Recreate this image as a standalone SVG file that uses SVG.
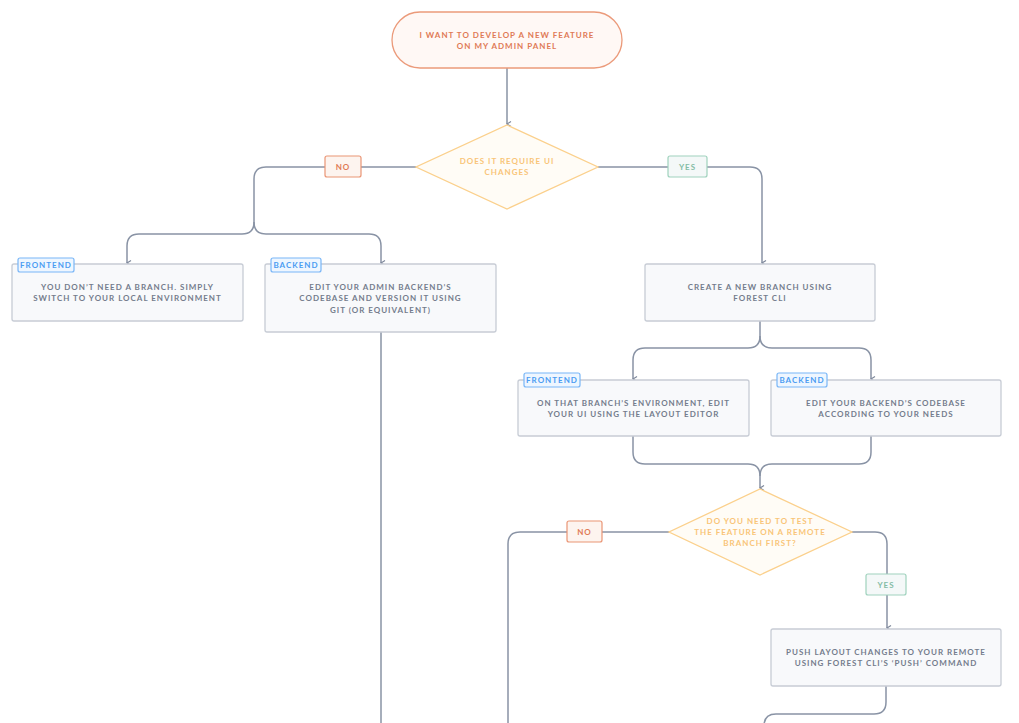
<svg xmlns="http://www.w3.org/2000/svg" width="1019" height="723" viewBox="0 0 1019 723">
<defs>
<marker id="arr" viewBox="0 0 6 6" refX="3" refY="5" markerWidth="6" markerHeight="6" markerUnits="userSpaceOnUse" orient="auto-start-reverse">
<path d="M0.5,1 L3,5 L5.5,1" fill="none" stroke="#7d879a" stroke-width="1.2"/>
</marker>
<style>
.t{font-family:Lato,"Open Sans","Liberation Sans",sans-serif;font-weight:700;font-size:8px;letter-spacing:1px;text-anchor:middle}
.box{fill:#f8f9fb;stroke:#c7ccd5;stroke-width:1.3}
.bt{fill:#747c8c}
.tag{fill:#eef6ff;stroke:#79b6f7;stroke-width:1.2}
.tagt{fill:#4b9cf2;font-size:8px}
.c{fill:none;stroke:#8993a5;stroke-width:1.5}
.no{fill:#fdf4ef;stroke:#ea9575;stroke-width:1.2}
.not{fill:#e07a55}
.yes{fill:#f4f8f8;stroke:#9fd2bd;stroke-width:1.2}
.yest{fill:#84bca5}
.dia{fill:#fffcf6;stroke:#fbd08c;stroke-width:1.3}
.diat{fill:#f9c578}
</style>
</defs>
<rect width="1019" height="723" fill="#ffffff"/>
<g id="connectors">
<path class="c" d="M507,68 V124" marker-end="url(#arr)"/>
<path class="c" d="M416,167 H266 Q254,167 254,179 V222 Q254,234 242,234 H139 Q127,234 127,246 V263" marker-end="url(#arr)"/>
<path class="c" d="M254,222 Q254,234 266,234 H369 Q381,234 381,246 V263" marker-end="url(#arr)"/>
<path class="c" d="M598,167 H750 Q762,167 762,179 V263" marker-end="url(#arr)"/>
<path class="c" d="M381,332 V723"/>
<path class="c" d="M760,321 V336 Q760,348 748,348 H645 Q633,348 633,360 V379" marker-end="url(#arr)"/>
<path class="c" d="M760,336 Q760,348 772,348 H859 Q871,348 871,360 V379" marker-end="url(#arr)"/>
<path class="c" d="M633,436 V452 Q633,464 645,464 H748 Q760,464 760,476 V488" marker-end="url(#arr)"/>
<path class="c" d="M871,436 V452 Q871,464 859,464 H772 Q760,464 760,476"/>
<path class="c" d="M669,532 H520 Q508,532 508,544 V723"/>
<path class="c" d="M852,532 H875 Q887,532 887,544 V628" marker-end="url(#arr)"/>
<path class="c" d="M886,686 V702 Q886,714 874,714 H776 Q764,714 764,726"/>
</g>
<g id="start">
<rect x="392" y="12" width="230" height="56" rx="28" fill="#fff8f5" stroke="#eb9a7a" stroke-width="1.3"/>
<text class="t not" x="507" y="38">I WANT TO DEVELOP A NEW FEATURE</text>
<text class="t not" x="507" y="49">ON MY ADMIN PANEL</text>
</g>
<g id="decision1">
<polygon class="dia" points="507,125 598,167 507,209 416,167"/>
<text class="t diat" x="507" y="164">DOES IT REQUIRE UI</text>
<text class="t diat" x="507" y="175">CHANGES</text>
</g>
<g id="label-no-1">
<rect class="no" x="325" y="156" width="36" height="21" rx="2"/>
<text class="t not" x="343" y="169.5">NO</text>
</g>
<g id="label-yes-1">
<rect class="yes" x="668" y="156" width="39" height="21" rx="2"/>
<text class="t yest" x="687.5" y="169.5">YES</text>
</g>
<g id="node-frontend-local">
<rect class="box" x="12" y="264" width="231" height="57" rx="2"/>
<text class="t bt" x="127.5" y="290">YOU DON’T NEED A BRANCH. SIMPLY</text>
<text class="t bt" x="127.5" y="301">SWITCH TO YOUR LOCAL ENVIRONMENT</text>
<rect class="tag" x="18" y="258" width="56" height="14" rx="2"/>
<text class="t tagt" x="46" y="268">FRONTEND</text>
</g>
<g id="node-backend-local">
<rect class="box" x="265" y="264" width="231" height="68" rx="2"/>
<text class="t bt" x="380.5" y="290">EDIT YOUR ADMIN BACKEND’S</text>
<text class="t bt" x="380.5" y="301">CODEBASE AND VERSION IT USING</text>
<text class="t bt" x="380.5" y="313">GIT (OR EQUIVALENT)</text>
<rect class="tag" x="271" y="258" width="50" height="14" rx="2"/>
<text class="t tagt" x="296" y="268">BACKEND</text>
</g>
<g id="node-create-branch">
<rect class="box" x="645" y="264" width="230" height="57" rx="2"/>
<text class="t bt" x="760" y="290">CREATE A NEW BRANCH USING</text>
<text class="t bt" x="760" y="301">FOREST CLI</text>
</g>
<g id="node-frontend-branch">
<rect class="box" x="518" y="380" width="231" height="56" rx="2"/>
<text class="t bt" x="633.5" y="406">ON THAT BRANCH’S ENVIRONMENT, EDIT</text>
<text class="t bt" x="633.5" y="417">YOUR UI USING THE LAYOUT EDITOR</text>
<rect class="tag" x="524" y="373" width="56" height="14" rx="2"/>
<text class="t tagt" x="552" y="383">FRONTEND</text>
</g>
<g id="node-backend-branch">
<rect class="box" x="771" y="380" width="230" height="56" rx="2"/>
<text class="t bt" x="886" y="406">EDIT YOUR BACKEND’S CODEBASE</text>
<text class="t bt" x="886" y="417">ACCORDING TO YOUR NEEDS</text>
<rect class="tag" x="777" y="373" width="50" height="14" rx="2"/>
<text class="t tagt" x="802" y="383">BACKEND</text>
</g>
<g id="decision2">
<polygon class="dia" points="760,489 852,532 760,575 669,532"/>
<text class="t diat" x="760" y="524">DO YOU NEED TO TEST</text>
<text class="t diat" x="760" y="535">THE FEATURE ON A REMOTE</text>
<text class="t diat" x="760" y="546">BRANCH FIRST?</text>
</g>
<g id="label-no-2">
<rect class="no" x="567" y="521" width="35" height="21" rx="2"/>
<text class="t not" x="584.5" y="534.5">NO</text>
</g>
<g id="label-yes-2">
<rect class="yes" x="866" y="574" width="40" height="21" rx="2"/>
<text class="t yest" x="886" y="587.5">YES</text>
</g>
<g id="node-push">
<rect class="box" x="771" y="629" width="230" height="57" rx="2"/>
<text class="t bt" x="886" y="655">PUSH LAYOUT CHANGES TO YOUR REMOTE</text>
<text class="t bt" x="886" y="666">USING FOREST CLI’S ‘PUSH’ COMMAND</text>
</g>
</svg>
